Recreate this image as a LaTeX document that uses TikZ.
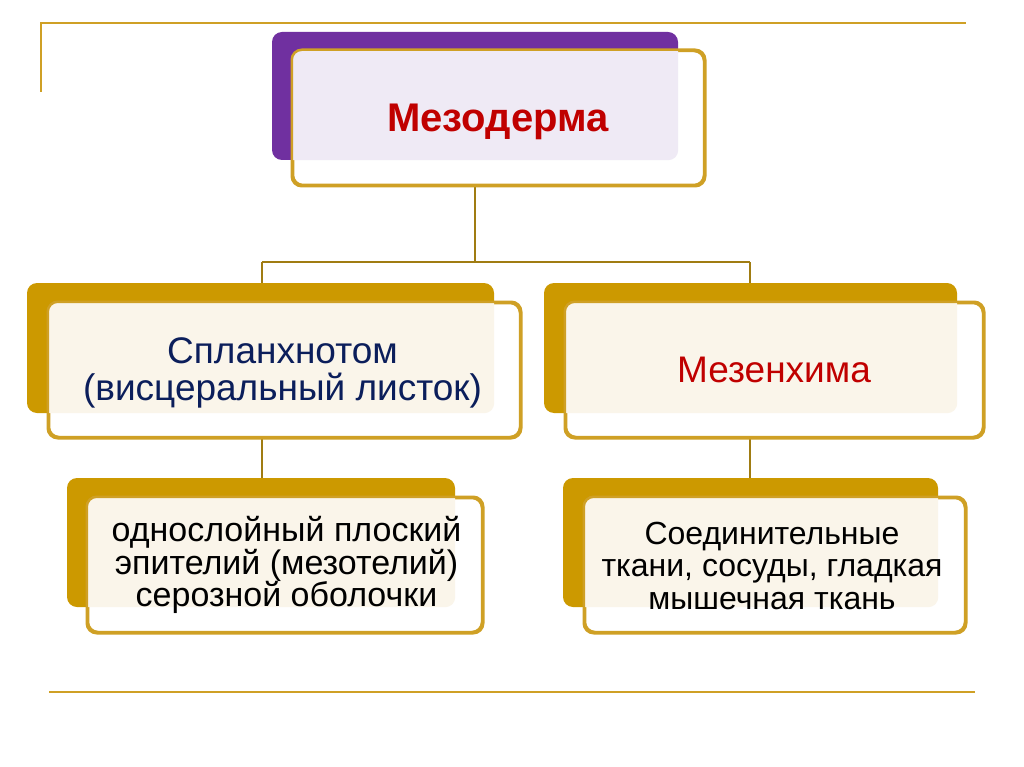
\documentclass[tikz,border=0pt]{standalone}
\usepackage{fontspec}
\setmainfont{Liberation Sans}
\definecolor{purp}{HTML}{7030A0}
\definecolor{goldb}{HTML}{CC9900}
\definecolor{goldl}{HTML}{CFA025}
\definecolor{conn}{HTML}{A07C12}
\definecolor{lav}{HTML}{EFEAF5}
\definecolor{cream}{HTML}{FAF5EA}
\definecolor{navy}{HTML}{0B1E5B}
\definecolor{redt}{HTML}{C00000}
\tikzset{
  backbox/.style={rectangle, rounded corners=10pt, inner sep=0pt, draw=none},
  frontbox/.style={rectangle, rounded corners=10pt, inner sep=0pt, fill=white, draw=goldl, line width=2.5pt},
  deco/.style={draw=goldl, line width=2.5pt},
  connline/.style={draw=conn, line width=2pt},
  txt/.style={inner sep=0pt, align=center},
}
\newcommand{\overlaybox}[3]{%
  \begin{scope}
    \clip[rounded corners=10pt] (#1.south west) rectangle (#1.north east);
    \fill[#3, rounded corners=10pt] (#2.south west) rectangle (#2.north east);
  \end{scope}
  \draw[goldl, line width=2.5pt, rounded corners=10pt] (#1.south west) rectangle (#1.north east);
}
\begin{document}
\begin{tikzpicture}[x=1pt,y=-1pt]
\useasboundingbox[fill=white] (0,0) rectangle (1024,767);
% decorative lines
\coordinate (d1) at (41,92);
\coordinate (d2) at (41,23);
\coordinate (d3) at (966,23);
\coordinate (d4) at (49,692);
\coordinate (d5) at (975,692);
\draw[deco] (d1) -- (d2) -- (d3);
\draw[deco] (d4) -- (d5);
% connectors
\coordinate (hl) at (262,262);
\coordinate (hr) at (750,262);
\coordinate (tc) at (475,185);
\coordinate (tj) at (475,262);
\coordinate (la) at (262,283);
\coordinate (ra) at (750,283);
\coordinate (lb1) at (262,437);
\coordinate (lb2) at (262,478);
\coordinate (rb1) at (750,437);
\coordinate (rb2) at (750,478);
\draw[connline] (tc) -- (tj);
\draw[connline] (hl) -- (hr);
\draw[connline] (hl) -- (la);
\draw[connline] (hr) -- (ra);
\draw[connline] (lb1) -- (lb2);
\draw[connline] (rb1) -- (rb2);
% top box
\node[backbox, fill=purp, minimum width=406pt, minimum height=128pt] (tb) at (475,96) {};
\node[frontbox, minimum width=411pt, minimum height=134pt] (tf) at (498.5,118) {};
\overlaybox{tf}{tb}{lav}
\node[txt, anchor=base, text=redt, font=\bfseries\fontsize{40}{44}\selectfont] (tt) at (498,132) {Мезодерма};
% middle left
\node[backbox, fill=goldb, minimum width=467pt, minimum height=130pt] (mlb) at (260.5,348) {};
\node[frontbox, minimum width=471pt, minimum height=134pt] (mlf) at (284.5,370) {};
\overlaybox{mlf}{mlb}{cream}
\node[txt, text=navy, font=\fontsize{37}{37}\selectfont] (mlt) at (282.5,373) {Спланхнотом\\(висцеральный листок)};
% middle right
\node[backbox, fill=goldb, minimum width=413pt, minimum height=130pt] (mrb) at (750.5,348) {};
\node[frontbox, minimum width=417pt, minimum height=134pt] (mrf) at (774.5,370) {};
\overlaybox{mrf}{mrb}{cream}
\node[txt, anchor=base, text=redt, font=\fontsize{37}{40}\selectfont] (mrt) at (774,382) {Мезенхима};
% lower left
\node[backbox, fill=goldb, minimum width=388pt, minimum height=129pt] (llb) at (261,542.5) {};
\node[frontbox, minimum width=394pt, minimum height=134pt] (llf) at (285,565) {};
\overlaybox{llf}{llb}{cream}
\node[txt, text=black, font=\fontsize{34}{32.5}\selectfont] (llt) at (286.5,565) {однослойный плоский\\эпителий (мезотелий)\\серозной оболочки};
% lower right
\node[backbox, fill=goldb, minimum width=375pt, minimum height=129pt] (lrb) at (750.5,542.5) {};
\node[frontbox, minimum width=380pt, minimum height=134pt] (lrf) at (775,565) {};
\overlaybox{lrf}{lrb}{cream}
\node[txt, text=black, font=\fontsize{32}{32.5}\selectfont] (lrt) at (772,565.5) {Соединительные\\ткани, сосуды, гладкая\\мышечная ткань};
\end{tikzpicture}
\end{document}
